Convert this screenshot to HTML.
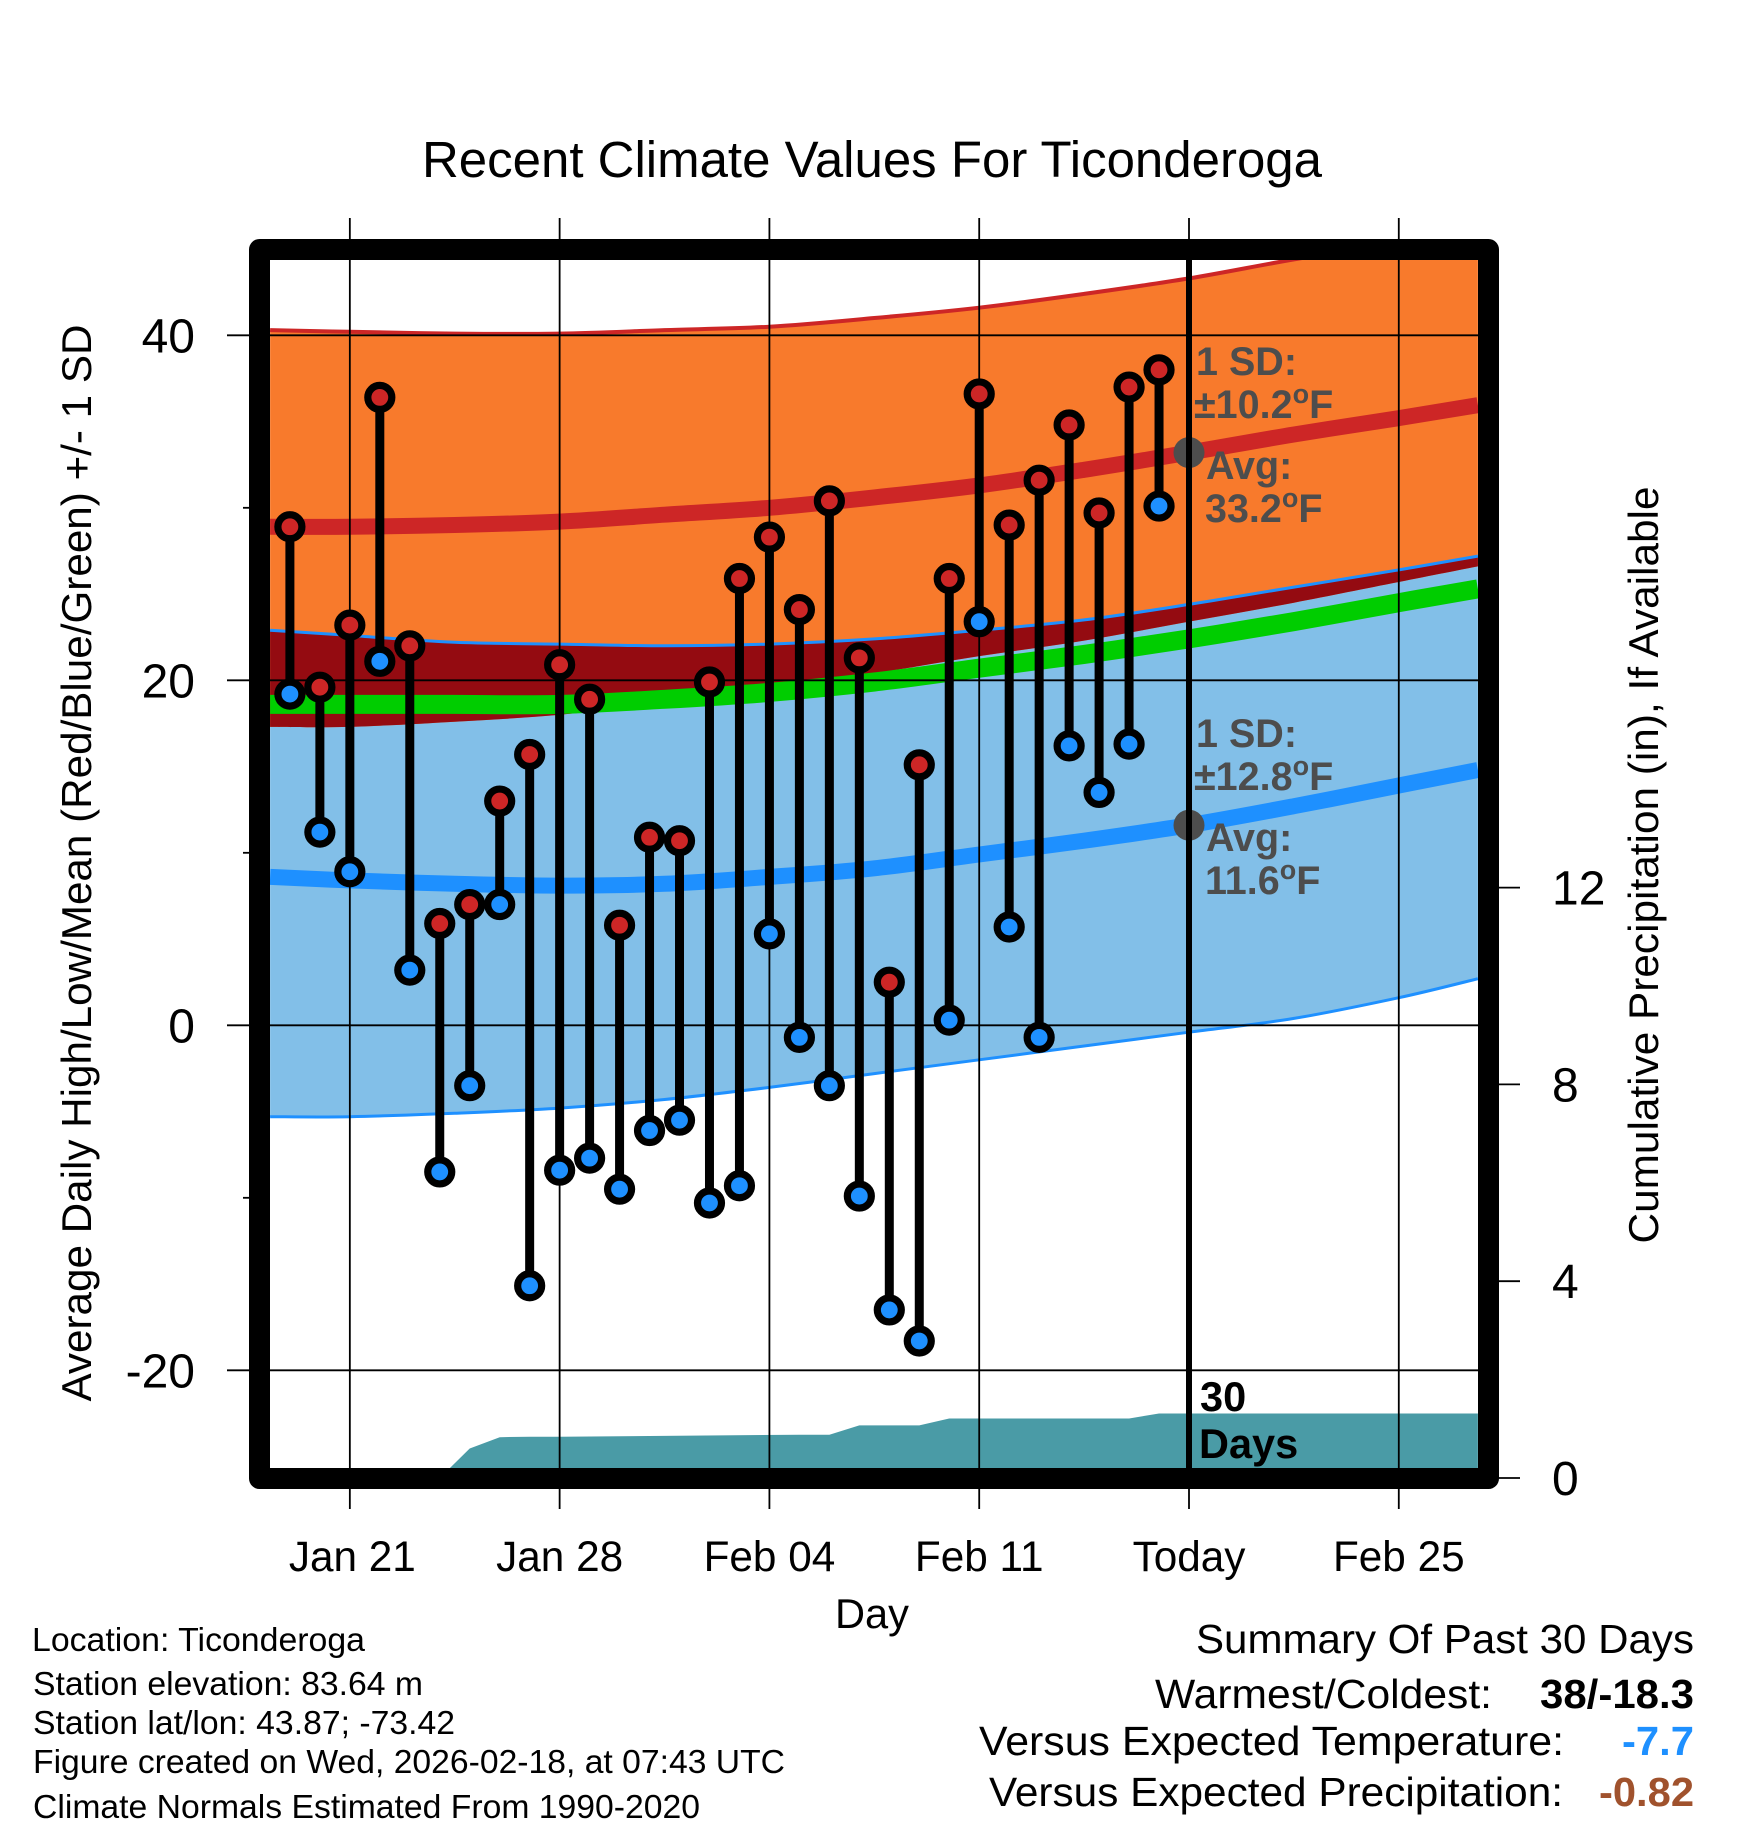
<!DOCTYPE html>
<html lang="en">
<head>
<meta charset="utf-8">
<title>Recent Climate Values For Ticonderoga</title>
<style>
html,body{margin:0;padding:0;background:#fff;}
svg{display:block;font-family:"Liberation Sans",Arial,sans-serif;}
</style>
</head>
<body>
<svg id="chart" xmlns="http://www.w3.org/2000/svg" width="1748" height="1828" viewBox="0 0 1748 1828">
  <defs><clipPath id="plot-clip"><rect x="270" y="260" width="1208" height="1208"/></clipPath></defs>
  <rect x="0" y="0" width="1748" height="1828" fill="#ffffff"/>
  <g id="bands" clip-path="url(#plot-clip)"></g>
  <g id="grid"></g>
  <g id="marks"></g>
  <rect x="259.5" y="249.5" width="1229" height="1229" fill="none" stroke="#000" stroke-width="21" stroke-linejoin="round"/>
  <g id="tick-labels"></g>

  <text x="872" y="177" text-anchor="middle" font-size="51" textLength="900" lengthAdjust="spacingAndGlyphs">Recent Climate Values For Ticonderoga</text>
  <text x="872" y="1628" text-anchor="middle" font-size="42" textLength="74" lengthAdjust="spacingAndGlyphs">Day</text>
  <text transform="translate(91,863) rotate(-90)" text-anchor="middle" font-size="42" textLength="1077" lengthAdjust="spacingAndGlyphs">Average Daily High/Low/Mean (Red/Blue/Green) +/- 1 SD</text>
  <text transform="translate(1658,865) rotate(-90)" text-anchor="middle" font-size="42" textLength="757" lengthAdjust="spacingAndGlyphs">Cumulative Precipitation (in), If Available</text>

  <g font-weight="bold" font-size="39.5" fill="#4d4d4d">
    <text x="1196" y="375">1 SD:</text>
    <text x="1194" y="418">±10.2<tspan font-size="27" dy="-15">o</tspan><tspan dy="15">F</tspan></text>
    <text x="1206" y="479">Avg:</text>
    <text x="1205" y="522">33.2<tspan font-size="27" dy="-15">o</tspan><tspan dy="15">F</tspan></text>
  </g>
  <g font-weight="bold" font-size="39.5" fill="#4d4d4d">
    <text x="1196" y="747">1 SD:</text>
    <text x="1194" y="790">±12.8<tspan font-size="27" dy="-15">o</tspan><tspan dy="15">F</tspan></text>
    <text x="1206" y="851">Avg:</text>
    <text x="1205" y="894">11.6<tspan font-size="27" dy="-15">o</tspan><tspan dy="15">F</tspan></text>
  </g>
  <text x="1200" y="1411" font-size="41.5" font-weight="bold">30</text>
  <text x="1199" y="1458" font-size="41.5" font-weight="bold">Days</text>

  <g font-size="33">
    <text x="32" y="1651" textLength="333" lengthAdjust="spacingAndGlyphs">Location: Ticonderoga</text>
    <text x="33" y="1695" textLength="390" lengthAdjust="spacingAndGlyphs">Station elevation: 83.64 m</text>
    <text x="33" y="1734" textLength="422" lengthAdjust="spacingAndGlyphs">Station lat/lon: 43.87; -73.42</text>
    <text x="33" y="1773" textLength="752" lengthAdjust="spacingAndGlyphs">Figure created on Wed, 2026-02-18, at 07:43 UTC</text>
    <text x="33" y="1818" textLength="667" lengthAdjust="spacingAndGlyphs">Climate Normals Estimated From 1990-2020</text>
  </g>
  <g font-size="41">
    <text x="1196" y="1653" textLength="498" lengthAdjust="spacingAndGlyphs">Summary Of Past 30 Days</text>
    <text x="1155" y="1708" textLength="337" lengthAdjust="spacingAndGlyphs">Warmest/Coldest:</text>
    <text x="1540" y="1708" font-weight="bold" textLength="154" lengthAdjust="spacingAndGlyphs">38/-18.3</text>
    <text x="979" y="1755" textLength="585" lengthAdjust="spacingAndGlyphs">Versus Expected Temperature:</text>
    <text x="1622" y="1755" font-weight="bold" fill="#1e90ff" textLength="72" lengthAdjust="spacingAndGlyphs">-7.7</text>
    <text x="989" y="1806" textLength="574" lengthAdjust="spacingAndGlyphs">Versus Expected Precipitation:</text>
    <text x="1599" y="1806" font-weight="bold" fill="#a0522d" textLength="95" lengthAdjust="spacingAndGlyphs">-0.82</text>
  </g>
</svg>
<script>
// ---- Data (days relative to today, Feb 18) ----
const obsDays = [-30,-29,-28,-27,-26,-25,-24,-23,-22,-21,-20,-19,-18,-17,-16,-15,-14,-13,-12,-11,-10,-9,-8,-7,-6,-5,-4,-3,-2,-1];
const dailyHighs = [28.9,19.6,23.2,36.4,22.0,5.9,7.0,13.0,15.7,20.9,18.9,5.8,10.9,10.7,19.9,25.9,28.3,24.1,30.4,21.3,2.5,15.1,25.9,36.6,29.0,31.6,34.8,29.7,37.0,38.0];
const dailyLows = [19.2,11.2,8.9,21.1,3.2,-8.5,-3.5,7.0,-15.1,-8.4,-7.7,-9.5,-6.1,-5.5,-10.3,-9.3,5.3,-0.7,-3.5,-9.9,-16.5,-18.3,0.3,23.4,5.7,-0.7,16.2,13.5,16.3,30.1];

const normalDays = [-30.66,-28,-24.5,-21,-17.5,-14,-10.5,-7,-3.5,0,3.5,7,9.64];
const highPlusSd = [40.3,40.2,40.1,40.1,40.3,40.5,41.0,41.6,42.4,43.3,44.4,45.4,46.1];
const highAvg = [28.9,28.9,29.0,29.2,29.6,30.0,30.6,31.3,32.2,33.2,34.25,35.2,35.95];
const highMinusSd = [17.3,17.3,17.6,18.0,18.7,19.5,20.4,21.4,22.3,23.4,24.5,25.7,26.6];
const lowPlusSd = [22.9,22.6,22.2,22.1,22.0,22.1,22.4,22.9,23.5,24.4,25.4,26.4,27.2];
const meanAvg = [18.6,18.6,18.6,18.6,18.9,19.3,19.9,20.7,21.5,22.4,23.4,24.5,25.3];
const lowAvg = [8.6,8.4,8.2,8.1,8.2,8.6,9.1,9.9,10.7,11.6,12.7,13.9,14.8];
const lowMinusSd = [-5.3,-5.3,-5.1,-4.8,-4.3,-3.6,-2.8,-2.0,-1.2,-0.4,0.4,1.6,2.7];

const precipDays = [-30.66,-25,-24,-23,-22,-21,-13,-12,-11,-10,-9,-8,-7,-3,-2,-1,9.64];
const precipTotals = [0,0,0.6,0.83,0.84,0.84,0.88,0.88,1.07,1.07,1.07,1.21,1.21,1.21,1.21,1.31,1.31];

const dateTickDays = [-28,-21,-14,-7,0,7];
const dateTickLabels = ["Jan 21","Jan 28","Feb 04","Feb 11","Today","Feb 25"];
const tempTicks = [40,20,0,-20];
const tempMinorTicks = [30,10,-10];
const precipTicks = [0,4,8,12];

const todayHighAvg = 33.2;
const todayLowAvg = 11.6;

// ---- Axis functions ----
function xScale(d){ return 1189 + 29.97 * d; }
function yScale(v){ return 1025.3 - 17.25 * v; }
function yPrecip(v){ return 1478 - 49.2 * v; }

const NS = "http://www.w3.org/2000/svg";
const bands = document.getElementById("bands");
const grid = document.getElementById("grid");
const marks = document.getElementById("marks");
const labels = document.getElementById("tick-labels");

function make(parent, tag, attrs){
  const el = document.createElementNS(NS, tag);
  for (const k in attrs) el.setAttribute(k, attrs[k]);
  parent.appendChild(el);
  return el;
}
function linePts(days, vals, sy){
  return days.map(function(d,i){ return xScale(d).toFixed(1) + "," + sy(vals[i]).toFixed(1); });
}
// Smooth path segments (Catmull-Rom to bezier) through screen points
function smoothSegs(p){
  let s = "";
  for (let i = 0; i < p.length - 1; i++){
    const p0 = p[Math.max(i-1,0)], p1 = p[i], p2 = p[i+1], p3 = p[Math.min(i+2,p.length-1)];
    const c1x = p1[0] + (p2[0]-p0[0])/6, c1y = p1[1] + (p2[1]-p0[1])/6;
    const c2x = p2[0] - (p3[0]-p1[0])/6, c2y = p2[1] - (p3[1]-p1[1])/6;
    s += " C" + c1x.toFixed(1) + "," + c1y.toFixed(1) + " " + c2x.toFixed(1) + "," + c2y.toFixed(1) + " " + p2[0].toFixed(1) + "," + p2[1].toFixed(1);
  }
  return s;
}
function curvePts(days, vals){
  return days.map(function(d,i){ return [xScale(d), yScale(vals[i])]; });
}
function curvePath(days, vals){
  const p = curvePts(days, vals);
  return "M" + p[0][0].toFixed(1) + "," + p[0][1].toFixed(1) + smoothSegs(p);
}
function bandPath(days, upper, lower){
  const lo = curvePts(days, lower).reverse();
  return curvePath(days, upper) + " L" + lo[0][0].toFixed(1) + "," + lo[0][1].toFixed(1) + smoothSegs(lo) + " Z";
}

// ---- Bands ----
const lowBand = make(bands, "path", {d: bandPath(normalDays, lowPlusSd, lowMinusSd), fill: "#82bfe8"});


const highBand = make(bands, "path", {d: bandPath(normalDays, highPlusSd, highMinusSd), fill: "#f87a2c"});


const overlapBand = make(bands, "path", {d: bandPath(normalDays, lowPlusSd, highMinusSd), fill: "#940b11"});


const precipArea = make(bands, "polygon", {
  points: linePts(precipDays, precipTotals, yPrecip).join(" ") + " " + xScale(9.64) + "," + yPrecip(0) + " " + xScale(-30.66) + "," + yPrecip(0),
  fill: "#4a9ba6"
});



const upperLine = make(bands, "path", {d: curvePath(normalDays, highPlusSd), fill: "none", stroke: "#cd2626", "stroke-width": 4});


const lowUpperLine = make(bands, "path", {d: curvePath(normalDays, lowPlusSd), fill: "none", stroke: "#1e90ff", "stroke-width": 3});


const lowLowerLine = make(bands, "path", {d: curvePath(normalDays, lowMinusSd), fill: "none", stroke: "#1e90ff", "stroke-width": 3});


const meanLine = make(bands, "path", {d: curvePath(normalDays, meanAvg), fill: "none", stroke: "#00cd00", "stroke-width": 19});


const highLine = make(bands, "path", {d: curvePath(normalDays, highAvg), fill: "none", stroke: "#cd2626", "stroke-width": 16});


const lowLine = make(bands, "path", {d: curvePath(normalDays, lowAvg), fill: "none", stroke: "#1e90ff", "stroke-width": 16});



// ---- Grid + ticks ----
tempTicks.forEach(function(v){
  const gl = make(grid, "line", {x1: 227, x2: 1478, y1: yScale(v), y2: yScale(v), stroke: "#000", "stroke-width": 1.8});
  
  
  const t = make(labels, "text", {x: 195, y: yScale(v) + 17, "text-anchor": "end", "font-size": 48});
  
  
  t.textContent = String(v);
});
tempMinorTicks.forEach(function(v){
  const mt = make(grid, "line", {x1: 243, x2: 250, y1: yScale(v), y2: yScale(v), stroke: "#000", "stroke-width": 1.8});
  
  
});
dateTickDays.forEach(function(d, i){
  const gl = make(grid, "line", {x1: xScale(d), x2: xScale(d), y1: 218, y2: 1509, stroke: "#000", "stroke-width": 1.8});
  
  
  const t = make(labels, "text", {x: xScale(d) + (i === 0 ? 2.5 : 0), y: 1571, "text-anchor": "middle", "font-size": 42.3});
  
  
  t.textContent = dateTickLabels[i];
});
precipTicks.forEach(function(v){
  const tk = make(grid, "line", {x1: 1499, x2: 1520, y1: yPrecip(v), y2: yPrecip(v), stroke: "#000", "stroke-width": 1.8});
  
  
  const t = make(labels, "text", {x: 1552, y: yPrecip(v) + 17, "font-size": 48});
  
  
  t.textContent = String(v);
});

// ---- Today markers ----
const highDot = make(marks, "circle", {cx: xScale(0), cy: yScale(todayHighAvg), r: 15.5, fill: "#4d4d4d"});


const lowDot = make(marks, "circle", {cx: xScale(0), cy: yScale(todayLowAvg), r: 15.5, fill: "#4d4d4d"});


const todayLine = make(marks, "line", {x1: xScale(0), x2: xScale(0), y1: 260, y2: 1468, stroke: "#000", "stroke-width": 6});



// ---- Daily high/low stems + dots ----
obsDays.forEach(function(d, i){
  const cx = xScale(d);
  const hy = yScale(dailyHighs[i]);
  const ly = yScale(dailyLows[i]);
  const stem = make(marks, "line", {x1: cx, x2: cx, y1: hy, y2: ly, stroke: "#000", "stroke-width": 9});
  
  
  const hi = make(marks, "circle", {cx: cx, cy: hy, r: 12, fill: "#cd2626", stroke: "#000", "stroke-width": 7.2});
  
  
  const lo = make(marks, "circle", {cx: cx, cy: ly, r: 12, fill: "#1e90ff", stroke: "#000", "stroke-width": 7.2});
  
  
});
</script>
</body>
</html>
